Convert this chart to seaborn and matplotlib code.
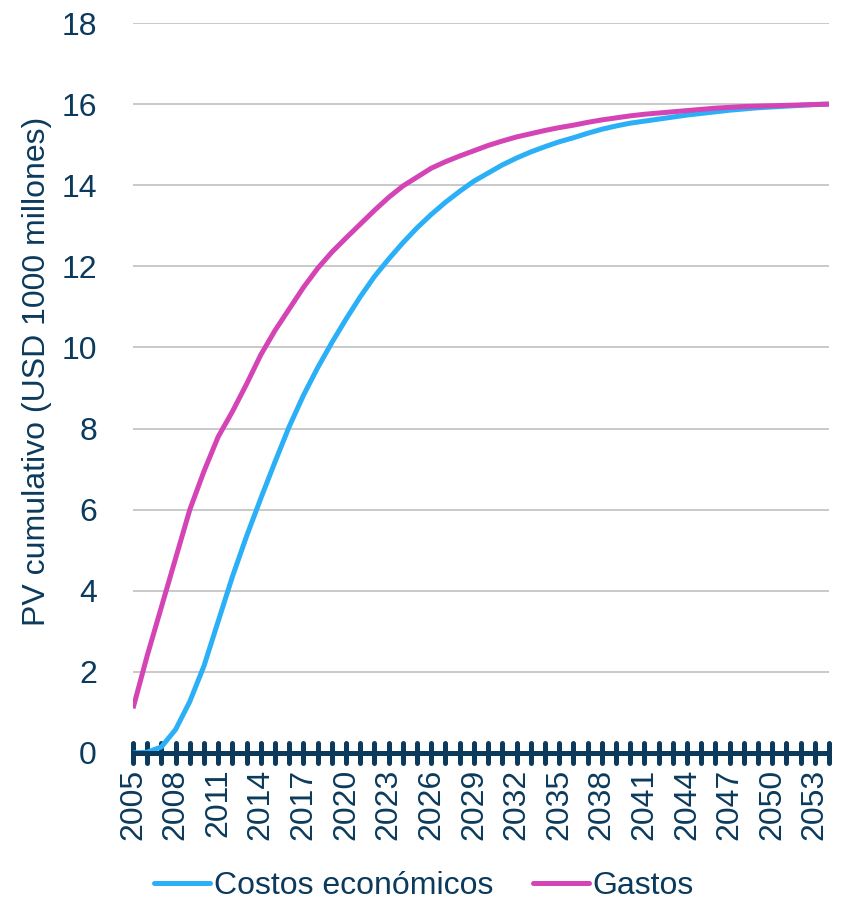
import matplotlib
matplotlib.use("Agg")
import matplotlib.pyplot as plt
from matplotlib.lines import Line2D
from matplotlib.markers import MarkerStyle
import pandas as pd
import seaborn as sns

# Annual cumulative present value, 2005-2054 (USD 1000 millones)
years = list(range(2005, 2055))
costos_economicos = [
    0.00, 0.02, 0.15, 0.58, 1.27, 2.15, 3.25, 4.35, 5.35, 6.28,
    7.18, 8.05, 8.82, 9.50, 10.12, 10.70, 11.25, 11.75, 12.18, 12.58,
    12.95, 13.28, 13.58, 13.85, 14.10, 14.30, 14.50, 14.67, 14.82, 14.95,
    15.07, 15.17, 15.28, 15.38, 15.46, 15.53, 15.58, 15.63, 15.68, 15.73,
    15.77, 15.81, 15.85, 15.88, 15.91, 15.93, 15.95, 15.97, 15.99, 16.00,
]
gastos = [
    1.10, 2.40, 3.60, 4.80, 6.00, 6.95, 7.80, 8.42, 9.10, 9.82,
    10.42, 10.95, 11.48, 11.95, 12.35, 12.70, 13.04, 13.38, 13.70, 13.98,
    14.20, 14.42, 14.58, 14.72, 14.85, 14.98, 15.09, 15.19, 15.27, 15.35,
    15.42, 15.48, 15.55, 15.61, 15.66, 15.71, 15.75, 15.78, 15.81, 15.84,
    15.87, 15.90, 15.92, 15.94, 15.95, 15.96, 15.97, 15.98, 15.99, 16.00,
]
series_names = ["Costos económicos", "Gastos"]
series_colors = ["#2BB0F8", "#D444B5"]
y_ticks = list(range(0, 19, 2))
x_label_years = [y for y in years if (y - 2005) % 3 == 0]

ink = "#0B3A5C"

sns.set_theme(style="white")
plt.rcParams["font.family"] = ["Liberation Sans", "DejaVu Sans"]

df = pd.DataFrame({
    "Año": years * 2,
    "Valor": costos_economicos + gastos,
    "Serie": [series_names[0]] * len(years) + [series_names[1]] * len(years),
})

fig = plt.figure(figsize=(8.45, 9), dpi=100)
ax = fig.add_axes([133 / 845, 1 - 753 / 900, (829 - 133) / 845, (753 - 23) / 900])

sns.lineplot(
    data=df, x="Año", y="Valor", hue="Serie", hue_order=series_names,
    palette=series_colors, linewidth=3.6, ax=ax, legend=False,
    solid_joinstyle="round", solid_capstyle="butt",
)

ax.set_xlim(years[0], years[-1])
ax.set_ylim(0, 18)
ax.set_axisbelow(True)

# Horizontal gridlines only
ax.set_yticks(y_ticks)
ax.yaxis.grid(True, color="#c9c9c9", linewidth=1.4)
ax.xaxis.grid(False)

for side in ("left", "right", "top"):
    ax.spines[side].set_visible(False)
ax.spines["bottom"].set_color(ink)
ax.spines["bottom"].set_linewidth(3.6)

# A crossing tick at every year, labels every third year
ax.set_xticks(years)
ax.set_xticklabels([str(y) if y in x_label_years else "" for y in years])
ax.tick_params(axis="x", bottom=True, direction="inout", length=14.5, width=3.6,
               color=ink, labelsize=23, labelcolor=ink, labelrotation=90, pad=4)
ax.tick_params(axis="y", left=False, length=0, pad=26, labelsize=23, labelcolor=ink)
for tick in ax.xaxis.get_major_ticks():
    tick.tick1line.set_marker(MarkerStyle("|", capstyle="round"))

ax.set_xlabel("")
ax.set_ylabel("PV cumulativo (USD 1000 millones)", fontsize=23, color=ink)
ax.yaxis.label.set_verticalalignment("center")
ax.yaxis.set_label_coords(-0.138, 0.523)

handles = [Line2D([], [], color=c, linewidth=3.6, solid_capstyle="round")
           for c in series_colors]
fig.legend(handles, series_names, loc="center", bbox_to_anchor=(424 / 845, 1 - 886 / 900),
           ncol=2, frameon=False, fontsize=23, handlelength=1.75,
           handletextpad=0.12, columnspacing=1.25, labelcolor=ink)

fig.savefig("out.png", dpi=100)
